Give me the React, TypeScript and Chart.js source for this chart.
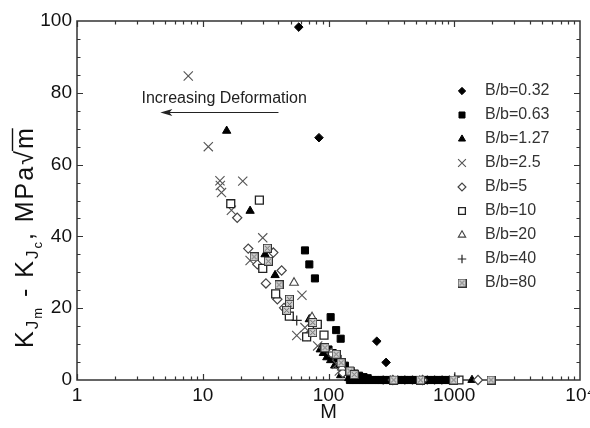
import React, { useEffect, useRef } from "react";
import { Chart, registerables } from "chart.js";
import { drawPoint } from "chart.js/helpers";

Chart.register(...registerables);

const FONT = '"Liberation Sans", Arial, Helvetica, sans-serif';

// ---------- data ----------
const SERIES_LABELS = [
  "B/b=0.32",
  "B/b=0.63",
  "B/b=1.27",
  "B/b=2.5",
  "B/b=5",
  "B/b=10",
  "B/b=20",
  "B/b=40",
  "B/b=80",
];

const M_032 = [58, 84, 242, 287, 272, 310, 355, 405, 465, 532, 610, 698, 800, 915];
const K_032 = [98.3, 67.5, 10.8, 4.9, 0, 0, 0, 0, 0, 0, 0, 0, 0, 0];

const M_063 = [
  65, 70.4, 78, 104, 115, 125, 100, 108, 118, 135, 150, 162, 175, 190, 205,
  148, 156, 165, 175, 186, 197, 209, 222, 236, 250, 262,
  276, 290, 306, 323, 341, 360, 380, 401, 423, 447, 472, 498, 526, 555, 586, 619, 653, 690, 728, 768, 811, 856, 903,
];
const K_063 = [
  36.1, 32.2, 28.3, 17.5, 13.9, 11.5, 8.5, 7.5, 6.0, 4.0, 2.6, 1.8, 1.2, 0.8, 0.5,
  0, 0, 0, 0, 0, 0, 0, 0, 0, 0, 0,
  0, 0, 0, 0, 0, 0, 0, 0, 0, 0, 0, 0, 0, 0, 0, 0, 0, 0, 0, 0, 0, 0, 0,
];

const M_127 = [15.5, 23.8, 31.3, 37.6, 70.4, 86, 91, 97, 104, 112, 125, 145, 160, 1384];
const K_127 = [69.4, 47.1, 35.0, 29.2, 16.9, 8.5, 7.5, 6.3, 5.5, 4.0, 1.3, 0.5, 0, 0];

const M_25 = [7.67, 11.07, 13.7, 13.8, 14.1, 16.9, 20.8, 30, 23.8, 61.5, 65, 55.9, 82, 116, 122];
const K_25 = [84.7, 65.0, 55.5, 54.2, 52.2, 47.3, 55.4, 39.6, 33.3, 23.6, 14.6, 12.4, 9.5, 4.4, 2.5];

const M_5 = [18.8, 23, 27.2, 36.4, 42.4, 31.8, 39.2, 44.3, 68, 105, 130, 325, 560, 1545];
const K_5 = [45.2, 36.6, 32.2, 35.5, 30.5, 26.9, 22.5, 20.1, 12.3, 7.5, 2.0, 0, 0, 0];

const M_10 = [16.7, 28.2, 30, 38, 48.8, 81.5, 92.1, 67, 1090];
const K_10 = [49.1, 50.1, 31.1, 24.0, 17.8, 15.5, 12.5, 12.0, 0];

const M_20 = [53.2, 74, 128];
const K_20 = [27.1, 17.5, 3.5];

const M_40 = [55.9, 100, 1010];
const K_40 = [16.6, 7.8, 0.8];

const M_80 = [32.6, 25.6, 33.2, 40.4, 48.8, 49, 46.5, 75, 74.9, 93.7, 115, 126, 148, 160, 330, 540, 990, 1960];
const K_80 = [36.7, 34.3, 33.1, 26.5, 22.5, 21.1, 19.4, 16.0, 13.2, 9.0, 7.2, 4.8, 2.5, 1.5, 0, 0, 0, 0];

const SERIES_M = [M_032, M_063, M_127, M_25, M_5, M_10, M_20, M_40, M_80];
const SERIES_K = [K_032, K_063, K_127, K_25, K_5, K_10, K_20, K_40, K_80];

const X_TICKS = [1, 10, 100, 1000, 10000];
const X_TICK_LABELS = ["1", "10", "100", "1000", "10\u2074"];
const Y_TICKS = [0, 20, 40, 60, 80, 100];

const X_TITLE = "M";
const ANNOT_TEXT = "Increasing Deformation";
const ANNOT_TEXT_M = 14.8;
const ANNOT_TEXT_K = 78.5;
const ARROW_FROM_M = 40;
const ARROW_TO_M = 4.6;
const ARROW_K = 74.6;

function makeBoxCross(): HTMLCanvasElement {
  const c = document.createElement("canvas");
  c.width = 9;
  c.height = 9;
  const g = c.getContext("2d")!;
  g.fillStyle = "#d0d0d0";
  g.fillRect(0, 0, 9, 9);
  g.strokeStyle = "#333";
  g.lineWidth = 1;
  g.strokeRect(0.5, 0.5, 8, 8);
  g.strokeStyle = "#666";
  g.beginPath();
  g.moveTo(2, 2);
  g.lineTo(7, 7);
  g.moveTo(7, 2);
  g.lineTo(2, 7);
  g.stroke();
  return c;
}

const framePlugin = {
  id: "frameTicks",
  beforeDatasetsDraw(chart: any) {
    const ctx = chart.ctx;
    const { left, right, top, bottom } = chart.chartArea;
    const xs = chart.scales.x;
    const ys = chart.scales.y;
    ctx.save();
    ctx.strokeStyle = "#333";
    ctx.lineWidth = 1.5;
    ctx.strokeRect(left, top, right - left, bottom - top);
    ctx.lineWidth = 1.2;
    ctx.beginPath();
    for (let k = 0; k < 4; k++) {
      for (let d = 1; d <= 9; d++) {
        const v = d * Math.pow(10, k);
        const px = Math.round(xs.getPixelForValue(v)) + 0.5;
        const len = d === 1 ? 6 : 3.5;
        ctx.moveTo(px, bottom);
        ctx.lineTo(px, bottom - len);
        ctx.moveTo(px, top);
        ctx.lineTo(px, top + len);
      }
    }
    for (let v = 5; v < 100; v += 5) {
      const py = Math.round(ys.getPixelForValue(v)) + 0.5;
      const len = v % 20 === 0 ? 6 : 3.5;
      ctx.moveTo(left, py);
      ctx.lineTo(left + len, py);
      ctx.moveTo(right, py);
      ctx.lineTo(right - len, py);
    }
    ctx.stroke();
    ctx.restore();
  },
  afterDraw(chart: any) {
    const ctx = chart.ctx;
    const xs = chart.scales.x;
    const ys = chart.scales.y;
    const { left } = chart.chartArea;
    ctx.save();

    // annotation
    ctx.fillStyle = "#222";
    ctx.font = `16px ${FONT}`;
    ctx.textAlign = "center";
    ctx.textBaseline = "middle";
    ctx.fillText(ANNOT_TEXT, xs.getPixelForValue(ANNOT_TEXT_M), ys.getPixelForValue(ANNOT_TEXT_K));
    const ax1 = xs.getPixelForValue(ARROW_FROM_M);
    const ax2 = xs.getPixelForValue(ARROW_TO_M);
    const ay = Math.round(ys.getPixelForValue(ARROW_K)) + 0.5;
    ctx.strokeStyle = "#222";
    ctx.lineWidth = 1.2;
    ctx.beginPath();
    ctx.moveTo(ax1, ay);
    ctx.lineTo(ax2 + 4, ay);
    ctx.stroke();
    ctx.beginPath();
    ctx.moveTo(ax2, ay);
    ctx.lineTo(ax2 + 12, ay - 3.5);
    ctx.lineTo(ax2 + 9, ay);
    ctx.lineTo(ax2 + 12, ay + 3.5);
    ctx.closePath();
    ctx.fillStyle = "#222";
    ctx.fill();

    // legend
    const lx = left + 385;
    const tx = left + 408;
    let ly = 91;
    chart.data.datasets.forEach((ds: any) => {
      ctx.fillStyle = ds.backgroundColor;
      ctx.strokeStyle = ds.borderColor;
      ctx.lineWidth = ds.borderWidth;
      drawPoint(ctx, { pointStyle: ds.pointStyle, radius: ds.pointRadius * 0.85, rotation: 0, borderWidth: ds.borderWidth }, lx, ly);
      ctx.fillStyle = "#333";
      ctx.font = `16px ${FONT}`;
      ctx.textAlign = "left";
      ctx.textBaseline = "middle";
      ctx.fillText(ds.label, tx, ly);
      ly += 24;
    });

    // y title with subscripts
    const pieces = [
      { t: "K", s: 25, dy: 0 },
      { t: "J", s: 17, dy: 5 },
      { t: "m", s: 13, dy: 9 },
      { t: " - ", s: 25, dy: 0 },
      { t: "K", s: 25, dy: 0 },
      { t: "J", s: 17, dy: 5 },
      { t: "c", s: 13, dy: 9 },
      { t: ", MPa", s: 25, dy: 0 },
      { t: "\u221A", s: 25, dy: 0 },
      { t: "m", s: 25, dy: 0, over: true },
    ];
    ctx.translate(33, 348);
    ctx.rotate(-Math.PI / 2);
    (ctx as any).letterSpacing = "2px";
    ctx.fillStyle = "#111";
    ctx.strokeStyle = "#111";
    ctx.textAlign = "left";
    ctx.textBaseline = "alphabetic";
    let x = 0;
    pieces.forEach((p: any) => {
      ctx.font = `${p.s}px ${FONT}`;
      ctx.fillText(p.t, x, p.dy);
      const w = ctx.measureText(p.t).width;
      if (p.over) {
        ctx.lineWidth = 1.4;
        ctx.beginPath();
        ctx.moveTo(x - 2, -20.5);
        ctx.lineTo(x + w - 2, -20.5);
        ctx.stroke();
      }
      x += w;
    });
    ctx.restore();
  },
};

export default function App() {
  const ref = useRef<HTMLCanvasElement | null>(null);

  useEffect(() => {
    if (!ref.current) return;
    const boxCross = makeBoxCross();
    const styles: any[] = [
      { ps: "rectRot", r: 4.3, bg: "#000", bc: "#000", bw: 1 },
      { ps: "rect", r: 5, bg: "#000", bc: "#000", bw: 1 },
      { ps: "triangle", r: 4.8, bg: "#000", bc: "#000", bw: 1 },
      { ps: "crossRot", r: 6.5, bg: "#555", bc: "#555", bw: 1.1 },
      { ps: "rectRot", r: 4.6, bg: "#fff", bc: "#444", bw: 1.2 },
      { ps: "rect", r: 5.6, bg: "#fff", bc: "#222", bw: 1.3 },
      { ps: "triangle", r: 5, bg: "#fff", bc: "#444", bw: 1.1 },
      { ps: "cross", r: 5, bg: "#222", bc: "#222", bw: 1.2 },
      { ps: boxCross, r: 5, bg: "#aaa", bc: "#333", bw: 1 },
    ];
    const datasets = SERIES_LABELS.map((label, i) => ({
      label,
      data: SERIES_M[i].map((m, j) => ({ x: m, y: SERIES_K[i][j] })),
      pointStyle: styles[i].ps,
      pointRadius: styles[i].r,
      backgroundColor: styles[i].bg,
      borderColor: styles[i].bc,
      borderWidth: styles[i].bw,
      showLine: false,
      clip: false as any,
      order: SERIES_LABELS.length - i,
    }));

    Chart.defaults.font.family = FONT;
    const chart = new Chart(ref.current, {
      type: "scatter",
      data: { datasets },
      plugins: [framePlugin],
      options: {
        responsive: false,
        animation: false,
        events: [],
        layout: { padding: { left: 0, top: 21, right: 20, bottom: 0 } },
        plugins: { legend: { display: false }, tooltip: { enabled: false } },
        scales: {
          x: {
            type: "logarithmic",
            min: 1,
            max: 10000,
            grid: { display: false, drawTicks: false },
            border: { display: false },
            afterBuildTicks: (s: any) => {
              s.ticks = X_TICKS.map((v) => ({ value: v }));
            },
            afterFit: (s: any) => {
              s.height = 48;
            },
            ticks: {
              autoSkip: false,
              maxRotation: 0,
              padding: 4,
              color: "#111",
              font: { size: 19, family: FONT },
              callback: (v: any) => {
                const idx = X_TICKS.indexOf(Number(v));
                return idx >= 0 ? X_TICK_LABELS[idx] : "";
              },
            },
            title: {
              display: true,
              text: X_TITLE,
              color: "#111",
              font: { size: 20, family: FONT },
              padding: { top: 0, bottom: 4 },
            },
          },
          y: {
            type: "linear",
            min: 0,
            max: 100,
            grid: { display: false, drawTicks: false },
            border: { display: false },
            afterBuildTicks: (s: any) => {
              s.ticks = Y_TICKS.map((v) => ({ value: v }));
            },
            afterFit: (s: any) => {
              s.width = 77;
            },
            ticks: {
              padding: 5,
              color: "#111",
              font: { size: 19, family: FONT },
            },
          },
        },
      },
    });
    return () => chart.destroy();
  }, []);

  return (
    <div style={{ position: "absolute", left: 0, top: 0, width: 590, height: 428, overflow: "hidden", background: "#fff" }}>
      <canvas ref={ref} width={600} height={428} style={{ display: "block", width: 600, height: 428 }} />
    </div>
  );
}
